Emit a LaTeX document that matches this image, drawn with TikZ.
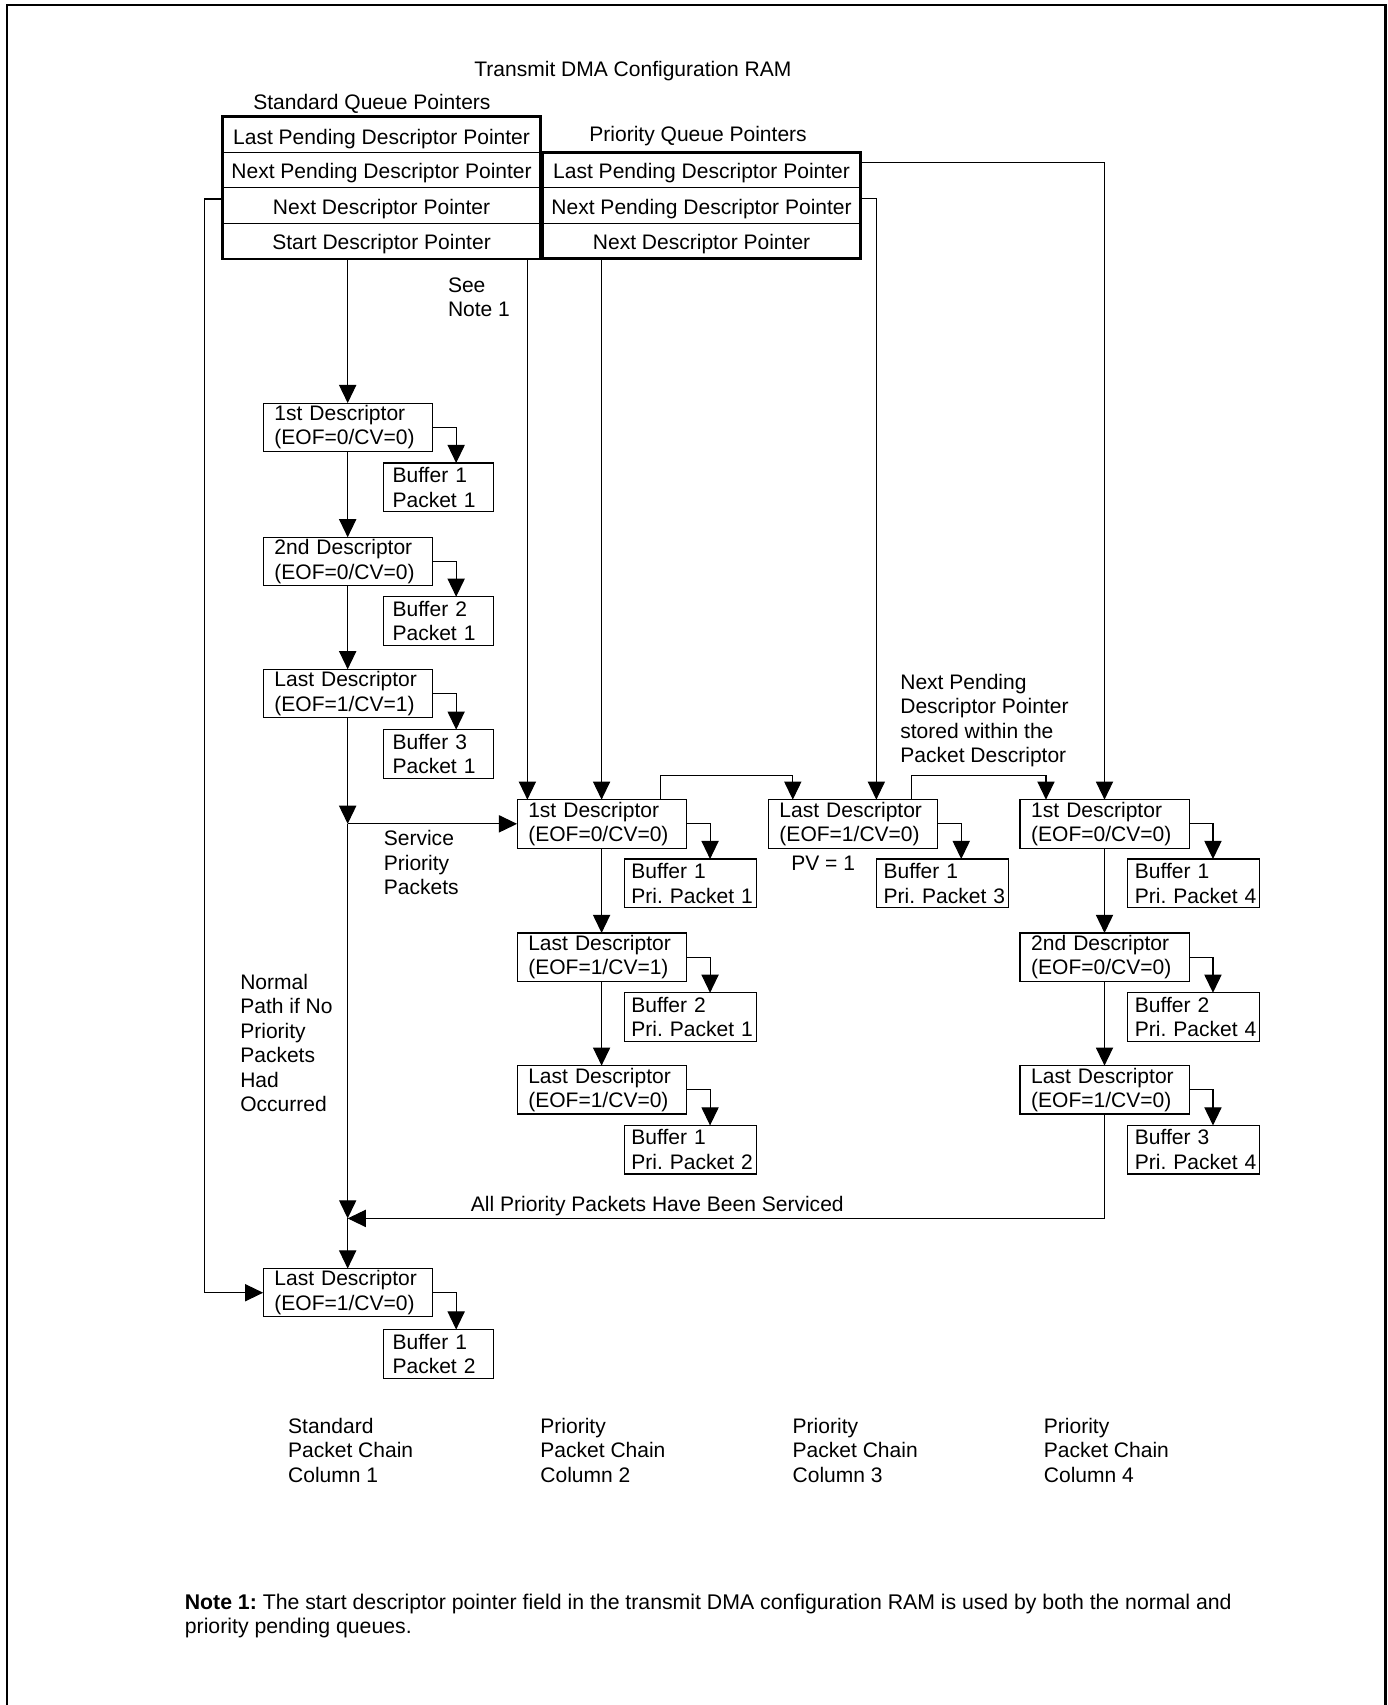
\documentclass[tikz,border=0pt]{standalone}
\usepackage{fontspec}
\setmainfont{Liberation Sans}
\frenchspacing
\usetikzlibrary{arrows.meta,calc}
\newcommand\bufarrow[2]{\draw[arr] let \p1=(#1.east), \p2=(#2.north) in (\p1) -- (\x1+13.2pt,\y1) -- (\x1+13.2pt,\y2);}
\begin{document}
\begin{tikzpicture}[x=0.6pt,y=-0.6pt,
  every node/.style={font=\fontsize{11.6}{13.5}\selectfont, inner sep=0pt, outer sep=0pt},
  ln/.style={line width=0.6pt},
  arr/.style={ln, -{Triangle[width=9.5pt,length=10pt]}},
  scell/.style={draw, line width=0.6pt, minimum width=175.4pt, minimum height=19.62pt, anchor=center, text height=9.6pt, text depth=0pt},
  pcell/.style={draw, line width=0.6pt, minimum width=175.6pt, minimum height=19.42pt, anchor=center, text height=9.6pt, text depth=0pt},
  desc/.style={draw, line width=0.6pt, anchor=north west, minimum width=93.3pt, minimum height=26.7pt, inner xsep=6.2pt, text width=80.9pt, align=left},
  bufa/.style={draw, line width=0.6pt, anchor=north west, minimum width=60.3pt, minimum height=26.8pt, inner xsep=4.8pt, text width=50.7pt, align=left},
  bufb/.style={draw, line width=0.6pt, anchor=north west, minimum width=72.9pt, minimum height=26.8pt, inner xsep=4pt, text width=64.9pt, align=left},
  lbl/.style={anchor=west, align=left},
  thickb/.style={line width=1.5pt},
  frame/.style={line width=1.3pt}
]
\useasboundingbox (0,0) rectangle (1276,1568);
\draw[frame] (6.3,1568) -- (6.3,4.6) -- (1274.2,4.6) -- (1274.2,1568);

% titles
\node (title) at (582,65.8) {Transmit DMA Configuration RAM};
\node (stdq) at (342,95.2) {Standard Queue Pointers};
\node (priq) at (642,125.2) {Priority Queue Pointers};

% standard table
\node[scell, text height=11.4pt] (s1) at (350.9,123.65) {Last Pending Descriptor Pointer};
\node[scell] (s2) at (350.9,156.35) {Next Pending Descriptor Pointer};
\node[scell] (s3) at (350.9,189.05) {Next Descriptor Pointer};
\node[scell] (s4) at (350.9,221.75) {Start Descriptor Pointer};
\draw[thickb] (s1.north west) rectangle (s4.south east);
% priority table
\node[pcell] (p1) at (645.2,156.58) {Last Pending Descriptor Pointer};
\node[pcell] (p2) at (645.2,188.95) {Next Pending Descriptor Pointer};
\node[pcell] (p3) at (645.2,221.32) {Next Descriptor Pointer};
\draw[thickb] (p1.north west) rectangle (p3.south east);

% column 1
\node[desc] (c1a) at (242,370.7) {1st Descriptor\\(EOF=0/CV=0)};
\node[desc] (c1b) at (242,494.1) {2nd Descriptor\\(EOF=0/CV=0)};
\node[desc] (c1c) at (242,615.5) {Last Descriptor\\(EOF=1/CV=1)};
\node[desc] (c1d) at (242,1166.6) {Last Descriptor\\(EOF=1/CV=0)};
\node[bufa] (b1a) at (353,425.8) {\mbox{Buffer 1}\\\mbox{Packet 1}};
\node[bufa] (b1b) at (353,548.8) {\mbox{Buffer 2}\\\mbox{Packet 1}};
\node[bufa] (b1c) at (353,671) {\mbox{Buffer 3}\\\mbox{Packet 1}};
\node[bufa] (b1d) at (353,1222.7) {\mbox{Buffer 1}\\\mbox{Packet 2}};

% column 2
\node[desc] (c2a) at (475.5,735.4) {1st Descriptor\\(EOF=0/CV=0)};
\node[desc] (c2b) at (475.5,858) {Last Descriptor\\(EOF=1/CV=1)};
\node[desc] (c2c) at (475.5,980) {Last Descriptor\\(EOF=1/CV=0)};
\node[bufb] (b2a) at (574,790) {\mbox{Buffer 1}\\\mbox{Pri. Packet 1}};
\node[bufb] (b2b) at (574,913) {\mbox{Buffer 2}\\\mbox{Pri. Packet 1}};
\node[bufb] (b2c) at (574,1035) {\mbox{Buffer 1}\\\mbox{Pri. Packet 2}};

% column 3
\node[desc] (c3a) at (706.5,735.4) {Last Descriptor\\(EOF=1/CV=0)};
\node[bufb] (b3a) at (806,790) {\mbox{Buffer 1}\\\mbox{Pri. Packet 3}};

% column 4
\node[desc] (c4a) at (938,735.4) {1st Descriptor\\(EOF=0/CV=0)};
\node[desc] (c4b) at (938,858) {2nd Descriptor\\(EOF=0/CV=0)};
\node[desc] (c4c) at (938,980) {Last Descriptor\\(EOF=1/CV=0)};
\node[bufb] (b4a) at (1037,790) {\mbox{Buffer 1}\\\mbox{Pri. Packet 4}};
\node[bufb] (b4b) at (1037,913) {\mbox{Buffer 2}\\\mbox{Pri. Packet 4}};
\node[bufb] (b4c) at (1037,1035) {\mbox{Buffer 3}\\\mbox{Pri. Packet 4}};

% helper coordinates
\coordinate (seeX) at (485,0);
\coordinate (yAll) at (0,1120.5);
\coordinate (j1) at (c1c.south |- c2a.west);
\coordinate (j2) at (c1c.south |- yAll);

% connectors
\draw[arr] (s4.south -| c1a.north) -- (c1a.north);
\draw[arr] (c1a.south) -- (c1b.north);
\draw[arr] (c1b.south) -- (c1c.north);
\draw[arr] (c1c.south) -- (j1);
\draw[arr] (j1) -- (c2a.west);
\draw[arr] (j1) -- (j2);
\draw[arr] (j2) -- (c1d.north);
\draw[arr] (c4c.south) |- (j2);
\draw[arr] ([yshift=3.6pt]s3.west) -- ++(-16.7,0) |- (c1d.west);
\draw[arr] (s4.south -| seeX) -- (seeX |- c2a.north);
\draw[arr] (p3.south -| c2a.north) -- (c2a.north);
\draw[arr] (c2a.south) -- (c2b.north);
\draw[arr] (c2b.south) -- (c2c.north);
\draw[arr] ([yshift=3.6pt]p2.east) -| ([xshift=13pt]c3a.north);
\draw[arr] ([yshift=4.4pt]p1.east) -| (c4a.north);
\draw[arr] ([xshift=32.5pt]c2a.north) -- ++(0,-22.5) -| ([xshift=-33.1pt]c3a.north);
\draw[arr] ([xshift=32.5pt]c3a.north) -- ++(0,-22.5) -| ([xshift=-32.3pt]c4a.north);
\draw[arr] (c4a.south) -- (c4b.north);
\draw[arr] (c4b.south) -- (c4c.north);

\bufarrow{c1a}{b1a}
\bufarrow{c1b}{b1b}
\bufarrow{c1c}{b1c}
\bufarrow{c1d}{b1d}
\bufarrow{c2a}{b2a}
\bufarrow{c2b}{b2b}
\bufarrow{c2c}{b2c}
\bufarrow{c3a}{b3a}
\bufarrow{c4a}{b4a}
\bufarrow{c4b}{b4b}
\bufarrow{c4c}{b4c}

% labels
\node[lbl] (seenote) at (412,273.5) {See\\Note 1};
\node[lbl] (svc) at (353,793.5) {Service\\Priority\\Packets};
\node[lbl] (normal) at (221,959) {Normal\\Path if No\\Priority\\Packets\\Had\\Occurred};
\node[lbl] (npd) at (828,662.5) {Next Pending\\Descriptor Pointer\\stored within the\\Packet Descriptor};
\node (pv) at (757,794) {PV = 1};
\node (allpri) at (604.5,1109) {All Priority Packets Have Been Serviced};
\node[lbl] (col1lbl) at (265,1333.5) {Standard\\Packet Chain\\Column 1};
\node[lbl] (col2lbl) at (497,1333.5) {Priority\\Packet Chain\\Column 2};
\node[lbl] (col3lbl) at (729,1333.5) {Priority\\Packet Chain\\Column 3};
\node[lbl] (col4lbl) at (960,1333.5) {Priority\\Packet Chain\\Column 4};
\node[lbl, font=\fontsize{11.73}{13.5}\selectfont] (note) at (170,1486) {\textbf{Note 1:} The start descriptor pointer field in the transmit DMA configuration RAM is used by both the normal and\\priority pending queues.};
\end{tikzpicture}
\end{document}
